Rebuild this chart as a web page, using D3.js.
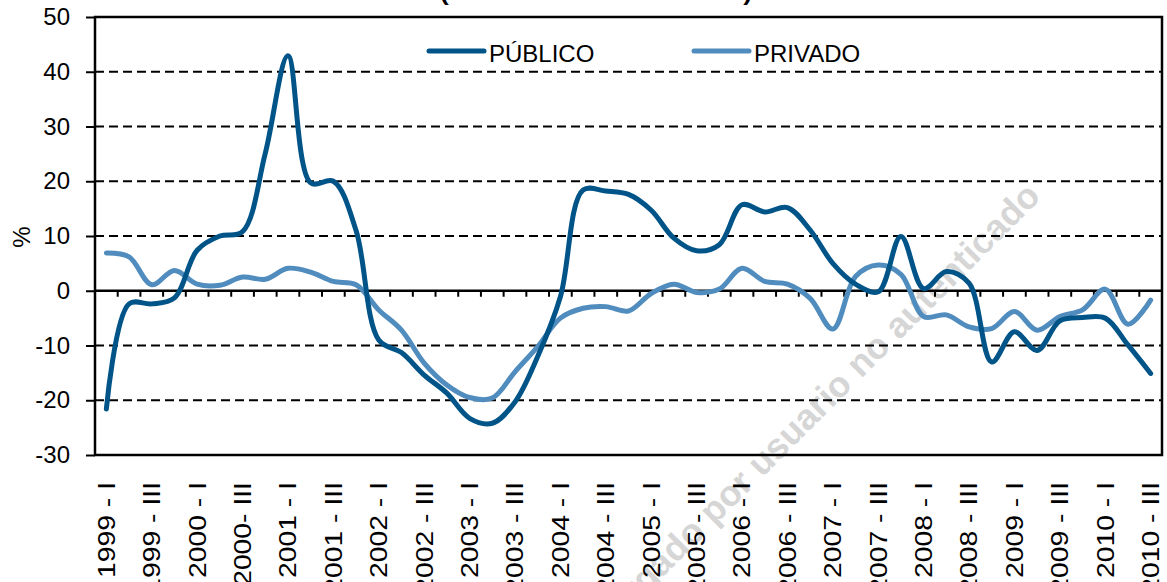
<!DOCTYPE html>
<html>
<head>
<meta charset="utf-8">
<script src="https://cdn.jsdelivr.net/npm/d3@7"></script>
<style>
    body { margin: 0; background: #fff; }
    svg { display: block; font-family: "Liberation Sans", Arial, sans-serif; }
</style>
</head>
<body>
<svg id="plot"></svg>
<script>
'use strict';

const plotWidth = 1167;
const plotHeight = 582;
const frame = { left: 95, right: 1162, top: 17, bottom: 455 };

const quarters = [
    '1999 I', '1999 II', '1999 III', '1999 IV',
    '2000 I', '2000 II', '2000 III', '2000 IV',
    '2001 I', '2001 II', '2001 III', '2001 IV',
    '2002 I', '2002 II', '2002 III', '2002 IV',
    '2003 I', '2003 II', '2003 III', '2003 IV',
    '2004 I', '2004 II', '2004 III', '2004 IV',
    '2005 I', '2005 II', '2005 III', '2005 IV',
    '2006 I', '2006 II', '2006 III', '2006 IV',
    '2007 I', '2007 II', '2007 III', '2007 IV',
    '2008 I', '2008 II', '2008 III', '2008 IV',
    '2009 I', '2009 II', '2009 III', '2009 IV',
    '2010 I', '2010 II', '2010 III'
];

// one label every second quarter, as printed (note "2000- III")
const tickLabels = [
    '1999 - I', '1999 - III', '2000 - I', '2000- III', '2001 - I', '2001 - III',
    '2002 - I', '2002 - III', '2003 - I', '2003 - III', '2004 - I', '2004 - III',
    '2005 - I', '2005 - III', '2006 - I', '2006 - III', '2007 - I', '2007 - III',
    '2008 - I', '2008 - III', '2009 - I', '2009 - III', '2010 - I', '2010 - III'
];

const publico = [
    -21.6, -2.4, -2.4, -1.3, 7.4, 10.0, 10.8, 25.1, 42.9, 19.7, 20.0, 11.0,
    -9.0, -11.3, -15.4, -18.7, -23.3, -24.2, -20.3, -12.0, -1.1, 18.4, 18.2, 17.6,
    14.7, 9.6, 7.3, 8.4, 15.7, 14.4, 15.2, 11.1, 5.0, 1.2, -0.2, 9.9,
    0.4, 3.5, 1.4, -13.0, -7.5, -10.9, -5.5, -4.9, -5.0, -9.9, -15.1
];

const privado = [
    6.9, 6.2, 1.1, 3.7, 1.2, 1.0, 2.5, 2.1, 4.1, 3.4, 1.7, 1.1,
    -3.5, -7.2, -13.2, -17.2, -19.5, -19.6, -14.8, -10.2, -5.0, -3.2, -2.9, -3.7,
    -0.5, 1.2, -0.3, 0.3, 4.1, 1.7, 1.2, -1.4, -7.0, 2.6, 4.7, 3.0,
    -4.7, -4.4, -6.6, -6.9, -3.8, -7.2, -4.7, -3.5, 0.3, -6.1, -1.7
];

const yTicks = [-30, -20, -10, 0, 10, 20, 30, 40, 50];

const series = [
    { name: 'PÚBLICO', values: publico, color: '#005487', legendX: 429 },
    { name: 'PRIVADO', values: privado, color: '#508dbe', legendX: 694 }
];

const svg = d3.select('#plot')
    .attr('width', plotWidth)
    .attr('height', plotHeight);

const xScale = d3.scaleBand()
    .domain(quarters)
    .range([frame.left, frame.right]);

const yScale = d3.scaleLinear()
    .domain([-30, 50])
    .range([frame.bottom, frame.top]);

const center = q => xScale(q) + xScale.bandwidth() / 2;

function renderTitle() {
    // title sits above the picture, only the parentheses' tails show
    svg.append('text')
        .attr('x', 440)
        .attr('y', -0.5)
        .attr('textLength', 312)
        .attr('lengthAdjust', 'spacingAndGlyphs')
        .style('font-size', '22px')
        .style('font-weight', 'bold')
        .text('(Tasa de variación anual)');
}

function renderWatermark() {
    svg.append('text')
        .attr('transform', 'translate(1042, 198) rotate(-45)')
        .attr('text-anchor', 'end')
        .style('font-size', '36px')
        .style('font-weight', 'bold')
        .style('fill', '#d6d6d6')
        .text('Documento descargado por usuario no autenticado');
}

function renderGrid() {
    svg.append('g')
        .selectAll('line')
        .data(yTicks.filter(v => v !== 0 && v !== -30 && v !== 50))
        .enter()
        .append('line')
        .attr('x1', frame.left)
        .attr('x2', frame.right)
        .attr('y1', d => yScale(d))
        .attr('y2', d => yScale(d))
        .attr('stroke', '#000')
        .attr('stroke-width', 2)
        .attr('stroke-dasharray', '9,5');

    svg.append('rect')
        .attr('x', frame.left)
        .attr('y', frame.top)
        .attr('width', frame.right - frame.left)
        .attr('height', frame.bottom - frame.top)
        .attr('fill', 'none')
        .attr('stroke', '#000')
        .attr('stroke-width', 2.5);
}

function renderYAxis() {
    const yAxis = d3.axisLeft(yScale)
        .tickValues(yTicks)
        .tickSize(9)
        .tickPadding(16)
        .tickFormat(d => String(d));

    svg.append('g')
        .attr('transform', `translate(${frame.left}, 0)`)
        .call(yAxis)
        .call(g => g.select('.domain').remove())
        .call(g => g.selectAll('.tick line').attr('stroke', '#000').attr('stroke-width', 2))
        .call(g => g.selectAll('.tick text')
            .attr('fill', '#000')
            .style('font-size', '24px')
            .style('font-family', '"Liberation Sans", Arial, sans-serif'));

    svg.append('text')
        .attr('transform', 'translate(22, 237) rotate(-90)')
        .attr('text-anchor', 'middle')
        .attr('dy', '0.35em')
        .style('font-size', '24px')
        .text('%');
}

function renderZeroAxis() {
    const y0 = yScale(0);

    svg.append('line')
        .attr('x1', frame.left)
        .attr('x2', frame.right)
        .attr('y1', y0)
        .attr('y2', y0)
        .attr('stroke', '#000')
        .attr('stroke-width', 2.5);

    svg.append('g')
        .selectAll('line')
        .data(quarters.slice(1))
        .enter()
        .append('line')
        .attr('x1', d => xScale(d))
        .attr('x2', d => xScale(d))
        .attr('y1', y0)
        .attr('y2', y0 + 6)
        .attr('stroke', '#000')
        .attr('stroke-width', 2);
}

function renderXLabels() {
    // the source stretches these labels along their length
    svg.append('g')
        .selectAll('text')
        .data(tickLabels)
        .enter()
        .append('text')
        .attr('transform', (_, i) => `translate(${center(quarters[i * 2])}, 482) rotate(-90) scale(1.18, 1)`)
        .attr('text-anchor', 'end')
        .attr('dy', '0.35em')
        .style('font-size', '24px')
        .text(d => d);
}

function renderLines() {
    const line = d3.line()
        .x((_, i) => center(quarters[i]))
        .y(d => yScale(d))
        .curve(d3.curveCatmullRom.alpha(0.5));

    svg.append('g')
        .selectAll('path')
        .data(series.slice().reverse())
        .enter()
        .append('path')
        .attr('d', d => line(d.values))
        .attr('fill', 'none')
        .attr('stroke', d => d.color)
        .attr('stroke-width', 5)
        .attr('stroke-linecap', 'round')
        .attr('stroke-linejoin', 'round');
}

function renderLegend() {
    const item = svg.append('g')
        .selectAll('g')
        .data(series)
        .enter()
        .append('g')
        .attr('transform', d => `translate(${d.legendX}, 51)`);

    item.append('line')
        .attr('x1', 0)
        .attr('x2', 55)
        .attr('stroke', d => d.color)
        .attr('stroke-width', 5)
        .attr('stroke-linecap', 'round');

    item.append('text')
        .attr('x', 60)
        .attr('y', 11)
        .style('font-size', '24px')
        .text(d => d.name);
}

renderTitle();
renderWatermark();
renderGrid();
renderYAxis();
renderZeroAxis();
renderXLabels();
renderLines();
renderLegend();
</script>
</body>
</html>
